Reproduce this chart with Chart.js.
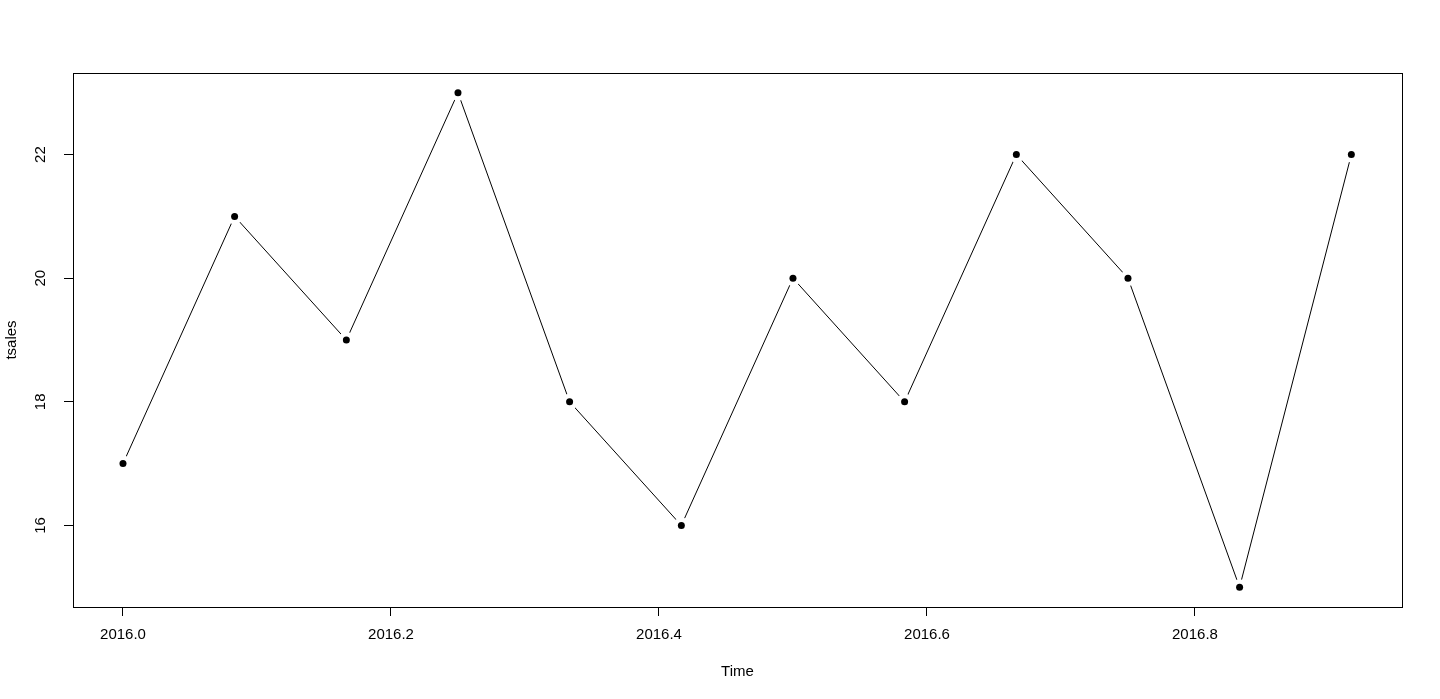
<!DOCTYPE html>
<html>
<head>
<meta charset="utf-8">
<script src="https://cdn.jsdelivr.net/npm/chart.js@4"></script>
<style>
html,body{margin:0;padding:0;background:#fff;}
#wrap{width:1440px;height:699px;position:relative;}
</style>
</head>
<body>
<div id="wrap"><canvas id="c" width="1440" height="699"></canvas></div>
<script>
const times = [2016.0000, 2016.0833, 2016.1667, 2016.2500, 2016.3333, 2016.4167, 2016.5000, 2016.5833, 2016.6667, 2016.7500, 2016.8333, 2016.9167];
const tsales = [17, 21, 19, 23, 18, 16, 20, 18, 22, 20, 15, 22];
const xTicks = [2016.0, 2016.2, 2016.4, 2016.6, 2016.8];
const yTicks = [16, 18, 20, 22];
const xTitle = 'Time';
const yTitle = 'tsales';

const pts = times.map((t, i) => ({x: t, y: tsales[i]}));
const FONT = {family: '"Liberation Sans", Arial, sans-serif', size: 15};

const boxPlugin = {
  id: 'box',
  afterDraw(chart) {
    const a = chart.chartArea, ctx = chart.ctx;
    ctx.save();
    ctx.strokeStyle = '#000';
    ctx.lineWidth = 1;
    ctx.strokeRect(Math.round(a.left) + 0.5, Math.round(a.top) + 0.5, Math.round(a.right - a.left), Math.round(a.bottom - a.top));
    ctx.restore();
  }
};

new Chart(document.getElementById('c'), {
  type: 'line',
  data: {
    datasets: [
      {
        label: 'points',
        data: pts,
        showLine: false,
        pointRadius: 3.5,
        pointBackgroundColor: '#000',
        pointBorderColor: '#000',
        pointBorderWidth: 0,
        order: 0
      },
      {
        label: 'line',
        data: pts,
        borderColor: '#000',
        borderWidth: 1,
        tension: 0,
        fill: false,
        pointRadius: 8,
        pointBackgroundColor: '#fff',
        pointBorderColor: '#fff',
        pointBorderWidth: 0,
        order: 1
      }
    ]
  },
  options: {
    responsive: false,
    animation: false,
    events: [],
    layout: {padding: {top: 73, right: 38, left: 0, bottom: 0}},
    plugins: {legend: {display: false}, tooltip: {enabled: false}},
    scales: {
      x: {
        type: 'linear',
        min: 2015.9627,
        max: 2016.9545,
        afterBuildTicks: s => { s.ticks = xTicks.map(v => ({value: v})); },
        afterFit: s => { s.height = 92; },
        border: {display: false},
        grid: {drawOnChartArea: false, drawTicks: true, tickLength: 9, tickColor: '#000', tickWidth: 1},
        ticks: {
          color: '#000', font: FONT, padding: 10, maxRotation: 0, minRotation: 0, autoSkip: false,
          callback: v => Number(v).toFixed(1)
        },
        title: {display: true, text: xTitle, color: '#000', font: FONT, padding: {top: 0, bottom: 18}}
      },
      y: {
        type: 'linear',
        min: 14.68,
        max: 23.32,
        afterBuildTicks: s => { s.ticks = yTicks.map(v => ({value: v})); },
        afterFit: s => { s.width = 73; },
        border: {display: false},
        grid: {drawOnChartArea: false, drawTicks: true, tickLength: 9, tickColor: '#000', tickWidth: 1},
        ticks: {
          color: '#000', font: FONT, padding: 15, minRotation: 90, maxRotation: 90, crossAlign: 'center', autoSkip: false,
          callback: v => String(v)
        },
        title: {display: true, text: yTitle, color: '#000', font: FONT, padding: {top: 3, bottom: 0}}
      }
    }
  },
  plugins: [boxPlugin]
});
</script>
</body>
</html>
